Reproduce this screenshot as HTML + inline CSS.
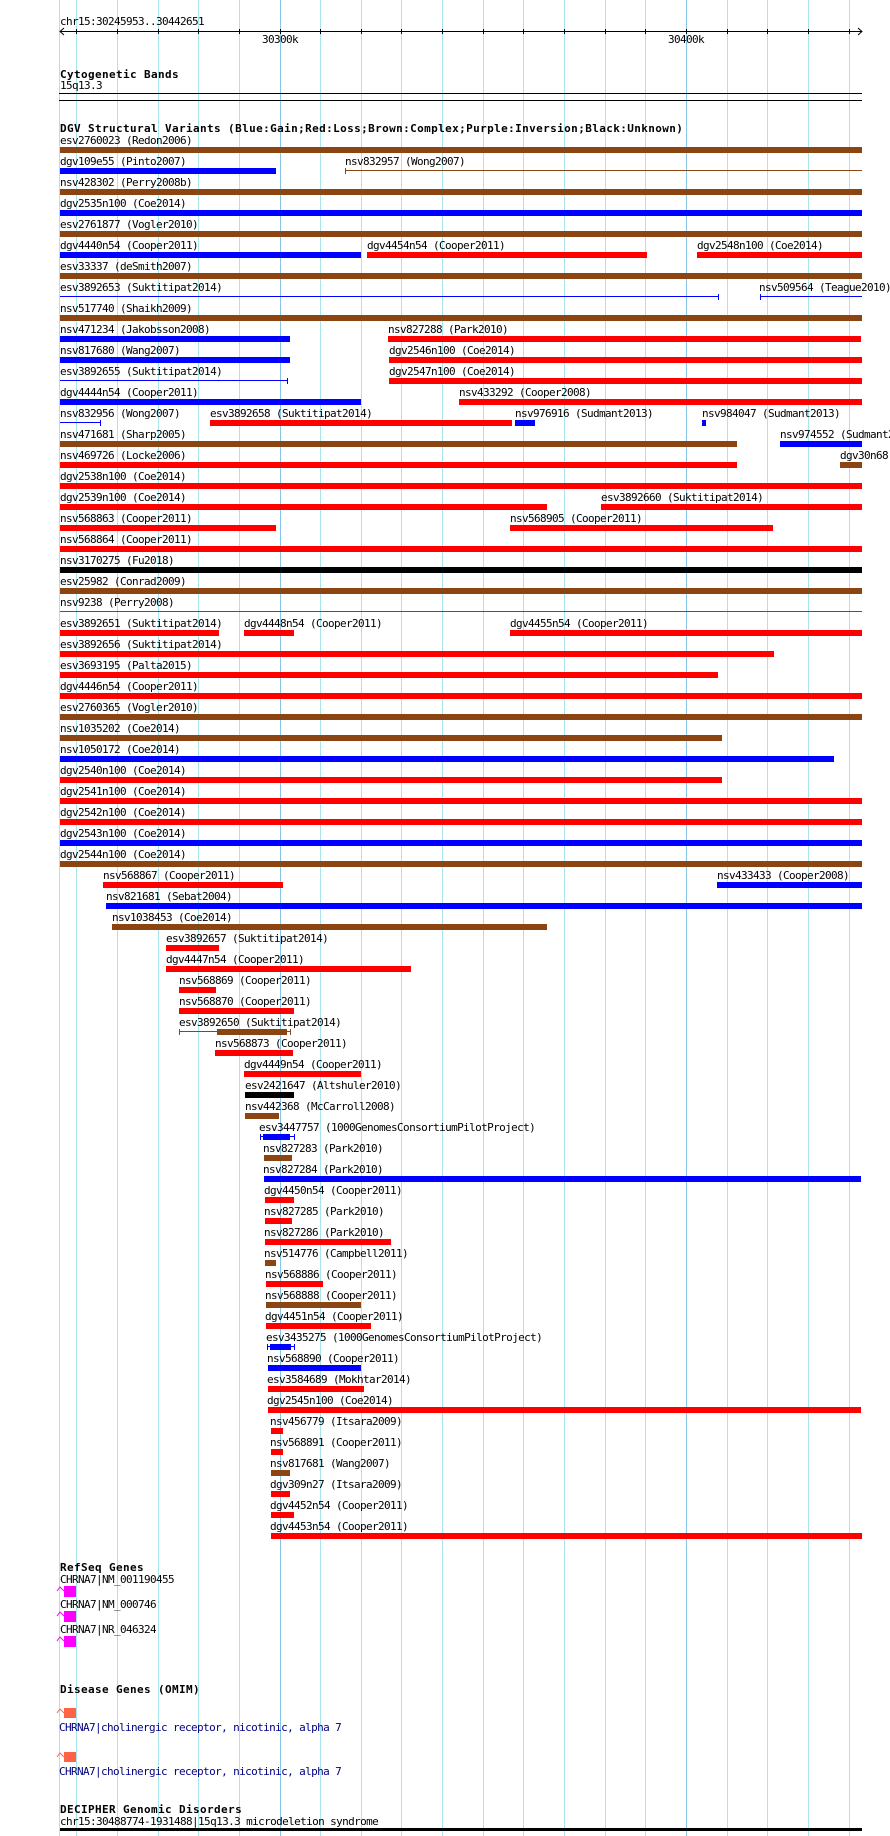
<!DOCTYPE html>
<html>
<head>
<meta charset="utf-8">
<style>
html,body{margin:0;padding:0;background:#ffffff;}
svg{display:block;}
text{font-family:"DejaVu Sans Mono","Liberation Mono",monospace;font-size:11px;letter-spacing:-0.62px;fill:#000;}
text.t{font-weight:bold;letter-spacing:0.38px;}
.r{fill:#ff0000}.b{fill:#0000ff}.n{fill:#8b4513}.k{fill:#000000}
</style>
</head>
<body>
<svg width="890" height="1836" viewBox="0 0 890 1836" xmlns="http://www.w3.org/2000/svg">
<rect x="0" y="0" width="890" height="1836" fill="#ffffff"/>
<!-- grid -->
<g fill="#a8e6ee">
<rect x="59" y="0" width="1" height="1836"/>
<rect x="76" y="0" width="1" height="1836"/>
<rect x="117" y="0" width="1" height="1836"/>
<rect x="158" y="0" width="1" height="1836"/>
<rect x="198" y="0" width="1" height="1836"/>
<rect x="239" y="0" width="1" height="1836"/>
<rect x="320" y="0" width="1" height="1836"/>
<rect x="361" y="0" width="1" height="1836"/>
<rect x="401" y="0" width="1" height="1836"/>
<rect x="442" y="0" width="1" height="1836"/>
<rect x="483" y="0" width="1" height="1836"/>
<rect x="523" y="0" width="1" height="1836"/>
<rect x="564" y="0" width="1" height="1836"/>
<rect x="605" y="0" width="1" height="1836"/>
<rect x="645" y="0" width="1" height="1836"/>
<rect x="727" y="0" width="1" height="1836"/>
<rect x="767" y="0" width="1" height="1836"/>
<rect x="808" y="0" width="1" height="1836"/>
<rect x="849" y="0" width="1" height="1836"/>
</g>
<g fill="#88c6e8">
<rect x="280" y="0" width="1" height="1836"/>
<rect x="686" y="0" width="1" height="1836"/>
</g>

<!-- ruler -->
<text x="60" y="25">chr15:30245953..30442651</text>
<rect x="60" y="31" width="802" height="1" fill="#000"/>
<polyline points="64,28 60,31.5 64,35" fill="none" stroke="#000" stroke-width="1"/>
<polyline points="858,28 862,31.5 858,35" fill="none" stroke="#000" stroke-width="1"/>
<g fill="#000">
<rect x="76" y="29" width="1" height="5"/>
<rect x="117" y="29" width="1" height="5"/>
<rect x="158" y="29" width="1" height="5"/>
<rect x="198" y="29" width="1" height="5"/>
<rect x="239" y="29" width="1" height="5"/>
<rect x="280" y="29" width="1" height="5"/>
<rect x="320" y="29" width="1" height="5"/>
<rect x="361" y="29" width="1" height="5"/>
<rect x="401" y="29" width="1" height="5"/>
<rect x="442" y="29" width="1" height="5"/>
<rect x="483" y="29" width="1" height="5"/>
<rect x="523" y="29" width="1" height="5"/>
<rect x="564" y="29" width="1" height="5"/>
<rect x="605" y="29" width="1" height="5"/>
<rect x="645" y="29" width="1" height="5"/>
<rect x="686" y="29" width="1" height="5"/>
<rect x="727" y="29" width="1" height="5"/>
<rect x="767" y="29" width="1" height="5"/>
<rect x="808" y="29" width="1" height="5"/>
<rect x="849" y="29" width="1" height="5"/>
</g>
<text x="280" y="43" text-anchor="middle">30300k</text>
<text x="686" y="43" text-anchor="middle">30400k</text>

<!-- cytogenetic bands -->
<text class="t" x="60" y="78">Cytogenetic Bands</text>
<text x="60" y="89">15q13.3</text>
<rect x="59" y="93" width="803" height="1" fill="#000"/>
<rect x="59" y="100" width="803" height="1" fill="#000"/>

<!-- DGV -->
<text class="t" x="60" y="132">DGV Structural Variants (Blue:Gain;Red:Loss;Brown:Complex;Purple:Inversion;Black:Unknown)</text>

<!-- row 0 -->
<text x="60" y="144">esv2760023 (Redon2006)</text>
<rect class="n" x="60" y="147" width="802" height="6"/>
<!-- row 1 -->
<text x="60" y="165">dgv109e55 (Pinto2007)</text>
<rect class="b" x="60" y="168" width="216" height="6"/>
<text x="345" y="165">nsv832957 (Wong2007)</text>
<rect class="n" x="345" y="170" width="517" height="1"/>
<rect class="n" x="345" y="168" width="1" height="6"/>
<!-- row 2 -->
<text x="60" y="186">nsv428302 (Perry2008b)</text>
<rect class="n" x="60" y="189" width="802" height="6"/>
<!-- row 3 -->
<text x="60" y="207">dgv2535n100 (Coe2014)</text>
<rect class="b" x="60" y="210" width="802" height="6"/>
<!-- row 4 -->
<text x="60" y="228">esv2761877 (Vogler2010)</text>
<rect class="n" x="60" y="231" width="802" height="6"/>
<!-- row 5 -->
<text x="60" y="249">dgv4440n54 (Cooper2011)</text>
<rect class="b" x="60" y="252" width="301" height="6"/>
<text x="367" y="249">dgv4454n54 (Cooper2011)</text>
<rect class="r" x="367" y="252" width="280" height="6"/>
<text x="697" y="249">dgv2548n100 (Coe2014)</text>
<rect class="r" x="697" y="252" width="165" height="6"/>
<!-- row 6 -->
<text x="60" y="270">esv33337 (deSmith2007)</text>
<rect class="n" x="60" y="273" width="802" height="6"/>
<!-- row 7 -->
<text x="60" y="291">esv3892653 (Suktitipat2014)</text>
<rect class="b" x="60" y="296" width="659" height="1"/>
<rect class="b" x="718" y="294" width="1" height="6"/>
<text x="759" y="291">nsv509564 (Teague2010)</text>
<rect class="b" x="760" y="296" width="102" height="1"/>
<rect class="b" x="760" y="294" width="1" height="6"/>
<!-- row 8 -->
<text x="60" y="312">nsv517740 (Shaikh2009)</text>
<rect class="n" x="60" y="315" width="802" height="6"/>
<!-- row 9 -->
<text x="60" y="333">nsv471234 (Jakobsson2008)</text>
<rect class="b" x="60" y="336" width="230" height="6"/>
<text x="388" y="333">nsv827288 (Park2010)</text>
<rect class="r" x="388" y="336" width="473" height="6"/>
<!-- row 10 -->
<text x="60" y="354">nsv817680 (Wang2007)</text>
<rect class="b" x="60" y="357" width="230" height="6"/>
<text x="389" y="354">dgv2546n100 (Coe2014)</text>
<rect class="r" x="389" y="357" width="473" height="6"/>
<!-- row 11 -->
<text x="60" y="375">esv3892655 (Suktitipat2014)</text>
<rect class="b" x="60" y="380" width="228" height="1"/>
<rect class="b" x="287" y="378" width="1" height="6"/>
<text x="389" y="375">dgv2547n100 (Coe2014)</text>
<rect class="r" x="389" y="378" width="473" height="6"/>
<!-- row 12 -->
<text x="60" y="396">dgv4444n54 (Cooper2011)</text>
<rect class="b" x="60" y="399" width="301" height="6"/>
<text x="459" y="396">nsv433292 (Cooper2008)</text>
<rect class="r" x="459" y="399" width="403" height="6"/>
<!-- row 13 -->
<text x="60" y="417">nsv832956 (Wong2007)</text>
<rect class="b" x="60" y="422" width="41" height="1"/>
<rect class="b" x="100" y="420" width="1" height="6"/>
<text x="210" y="417">esv3892658 (Suktitipat2014)</text>
<rect class="r" x="210" y="420" width="302" height="6"/>
<text x="515" y="417">nsv976916 (Sudmant2013)</text>
<rect class="b" x="515" y="420" width="20" height="6"/>
<text x="702" y="417">nsv984047 (Sudmant2013)</text>
<rect class="b" x="702" y="420" width="4" height="6"/>
<!-- row 14 -->
<text x="60" y="438">nsv471681 (Sharp2005)</text>
<rect class="n" x="60" y="441" width="677" height="6"/>
<text x="780" y="438">nsv974552 (Sudmant2013)</text>
<rect class="b" x="780" y="441" width="82" height="6"/>
<!-- row 15 -->
<text x="60" y="459">nsv469726 (Locke2006)</text>
<rect class="r" x="60" y="462" width="677" height="6"/>
<text x="840" y="459">dgv30n68 (Itsara2009)</text>
<rect class="n" x="840" y="462" width="22" height="6"/>
<!-- row 16 -->
<text x="60" y="480">dgv2538n100 (Coe2014)</text>
<rect class="r" x="60" y="483" width="802" height="6"/>
<!-- row 17 -->
<text x="60" y="501">dgv2539n100 (Coe2014)</text>
<rect class="r" x="60" y="504" width="487" height="6"/>
<text x="601" y="501">esv3892660 (Suktitipat2014)</text>
<rect class="r" x="601" y="504" width="261" height="6"/>
<!-- row 18 -->
<text x="60" y="522">nsv568863 (Cooper2011)</text>
<rect class="r" x="60" y="525" width="216" height="6"/>
<text x="510" y="522">nsv568905 (Cooper2011)</text>
<rect class="r" x="510" y="525" width="263" height="6"/>
<!-- row 19 -->
<text x="60" y="543">nsv568864 (Cooper2011)</text>
<rect class="r" x="60" y="546" width="802" height="6"/>
<!-- row 20 -->
<text x="60" y="564">nsv3170275 (Fu2018)</text>
<rect class="k" x="60" y="567" width="802" height="6"/>
<!-- row 21 -->
<text x="60" y="585">esv25982 (Conrad2009)</text>
<rect class="n" x="60" y="588" width="802" height="6"/>
<!-- row 22 -->
<text x="60" y="606">nsv9238 (Perry2008)</text>
<rect class="n" x="60" y="611" width="802" height="1"/>
<!-- row 23 -->
<text x="60" y="627">esv3892651 (Suktitipat2014)</text>
<rect class="r" x="60" y="630" width="159" height="6"/>
<text x="244" y="627">dgv4448n54 (Cooper2011)</text>
<rect class="r" x="244" y="630" width="50" height="6"/>
<text x="510" y="627">dgv4455n54 (Cooper2011)</text>
<rect class="r" x="510" y="630" width="352" height="6"/>
<!-- row 24 -->
<text x="60" y="648">esv3892656 (Suktitipat2014)</text>
<rect class="r" x="60" y="651" width="714" height="6"/>
<!-- row 25 -->
<text x="60" y="669">esv3693195 (Palta2015)</text>
<rect class="r" x="60" y="672" width="658" height="6"/>
<!-- row 26 -->
<text x="60" y="690">dgv4446n54 (Cooper2011)</text>
<rect class="r" x="60" y="693" width="802" height="6"/>
<!-- row 27 -->
<text x="60" y="711">esv2760365 (Vogler2010)</text>
<rect class="n" x="60" y="714" width="802" height="6"/>
<!-- row 28 -->
<text x="60" y="732">nsv1035202 (Coe2014)</text>
<rect class="n" x="60" y="735" width="662" height="6"/>
<!-- row 29 -->
<text x="60" y="753">nsv1050172 (Coe2014)</text>
<rect class="b" x="60" y="756" width="774" height="6"/>
<!-- row 30 -->
<text x="60" y="774">dgv2540n100 (Coe2014)</text>
<rect class="r" x="60" y="777" width="662" height="6"/>
<!-- row 31 -->
<text x="60" y="795">dgv2541n100 (Coe2014)</text>
<rect class="r" x="60" y="798" width="802" height="6"/>
<!-- row 32 -->
<text x="60" y="816">dgv2542n100 (Coe2014)</text>
<rect class="r" x="60" y="819" width="802" height="6"/>
<!-- row 33 -->
<text x="60" y="837">dgv2543n100 (Coe2014)</text>
<rect class="b" x="60" y="840" width="802" height="6"/>
<!-- row 34 -->
<text x="60" y="858">dgv2544n100 (Coe2014)</text>
<rect class="n" x="60" y="861" width="802" height="6"/>
<!-- row 35 -->
<text x="103" y="879">nsv568867 (Cooper2011)</text>
<rect class="r" x="103" y="882" width="180" height="6"/>
<text x="717" y="879">nsv433433 (Cooper2008)</text>
<rect class="b" x="717" y="882" width="145" height="6"/>
<!-- row 36 -->
<text x="106" y="900">nsv821681 (Sebat2004)</text>
<rect class="b" x="106" y="903" width="756" height="6"/>
<!-- row 37 -->
<text x="112" y="921">nsv1038453 (Coe2014)</text>
<rect class="n" x="112" y="924" width="435" height="6"/>
<!-- row 38 -->
<text x="166" y="942">esv3892657 (Suktitipat2014)</text>
<rect class="r" x="166" y="945" width="53" height="6"/>
<!-- row 39 -->
<text x="166" y="963">dgv4447n54 (Cooper2011)</text>
<rect class="r" x="166" y="966" width="245" height="6"/>
<!-- row 40 -->
<text x="179" y="984">nsv568869 (Cooper2011)</text>
<rect class="r" x="179" y="987" width="37" height="6"/>
<!-- row 41 -->
<text x="179" y="1005">nsv568870 (Cooper2011)</text>
<rect class="r" x="179" y="1008" width="115" height="6"/>
<!-- row 42 -->
<text x="179" y="1026">esv3892650 (Suktitipat2014)</text>
<rect class="n" x="179" y="1031" width="111" height="1"/>
<rect class="n" x="179" y="1029" width="1" height="6"/>
<rect class="n" x="290" y="1029" width="1" height="6"/>
<rect class="n" x="217" y="1029" width="70" height="6"/>
<!-- row 43 -->
<text x="215" y="1047">nsv568873 (Cooper2011)</text>
<rect class="r" x="215" y="1050" width="78" height="6"/>
<!-- row 44 -->
<text x="244" y="1068">dgv4449n54 (Cooper2011)</text>
<rect class="r" x="244" y="1071" width="117" height="6"/>
<!-- row 45 -->
<text x="245" y="1089">esv2421647 (Altshuler2010)</text>
<rect class="k" x="245" y="1092" width="49" height="6"/>
<!-- row 46 -->
<text x="245" y="1110">nsv442368 (McCarroll2008)</text>
<rect class="n" x="245" y="1113" width="34" height="6"/>
<!-- row 47 -->
<text x="259" y="1131">esv3447757 (1000GenomesConsortiumPilotProject)</text>
<rect class="b" x="260" y="1136" width="35" height="1"/>
<rect class="b" x="260" y="1134" width="1" height="6"/>
<rect class="b" x="294" y="1134" width="1" height="6"/>
<rect class="b" x="263" y="1134" width="27" height="6"/>
<!-- row 48 -->
<text x="263" y="1152">nsv827283 (Park2010)</text>
<rect class="n" x="264" y="1155" width="28" height="6"/>
<!-- row 49 -->
<text x="263" y="1173">nsv827284 (Park2010)</text>
<rect class="b" x="264" y="1176" width="597" height="6"/>
<!-- row 50 -->
<text x="264" y="1194">dgv4450n54 (Cooper2011)</text>
<rect class="r" x="265" y="1197" width="29" height="6"/>
<!-- row 51 -->
<text x="264" y="1215">nsv827285 (Park2010)</text>
<rect class="r" x="265" y="1218" width="27" height="6"/>
<!-- row 52 -->
<text x="264" y="1236">nsv827286 (Park2010)</text>
<rect class="r" x="265" y="1239" width="126" height="6"/>
<!-- row 53 -->
<text x="264" y="1257">nsv514776 (Campbell2011)</text>
<rect class="n" x="265" y="1260" width="11" height="6"/>
<!-- row 54 -->
<text x="265" y="1278">nsv568886 (Cooper2011)</text>
<rect class="r" x="266" y="1281" width="57" height="6"/>
<!-- row 55 -->
<text x="265" y="1299">nsv568888 (Cooper2011)</text>
<rect class="n" x="266" y="1302" width="95" height="6"/>
<!-- row 56 -->
<text x="265" y="1320">dgv4451n54 (Cooper2011)</text>
<rect class="r" x="266" y="1323" width="105" height="6"/>
<!-- row 57 -->
<text x="266" y="1341">esv3435275 (1000GenomesConsortiumPilotProject)</text>
<rect class="b" x="267" y="1346" width="28" height="1"/>
<rect class="b" x="267" y="1344" width="1" height="6"/>
<rect class="b" x="294" y="1344" width="1" height="6"/>
<rect class="b" x="270" y="1344" width="21" height="6"/>
<!-- row 58 -->
<text x="267" y="1362">nsv568890 (Cooper2011)</text>
<rect class="b" x="268" y="1365" width="93" height="6"/>
<!-- row 59 -->
<text x="267" y="1383">esv3584689 (Mokhtar2014)</text>
<rect class="r" x="268" y="1386" width="96" height="6"/>
<!-- row 60 -->
<text x="267" y="1404">dgv2545n100 (Coe2014)</text>
<rect class="r" x="268" y="1407" width="593" height="6"/>
<!-- row 61 -->
<text x="270" y="1425">nsv456779 (Itsara2009)</text>
<rect class="r" x="271" y="1428" width="12" height="6"/>
<!-- row 62 -->
<text x="270" y="1446">nsv568891 (Cooper2011)</text>
<rect class="r" x="271" y="1449" width="12" height="6"/>
<!-- row 63 -->
<text x="270" y="1467">nsv817681 (Wang2007)</text>
<rect class="n" x="271" y="1470" width="19" height="6"/>
<!-- row 64 -->
<text x="270" y="1488">dgv309n27 (Itsara2009)</text>
<rect class="r" x="271" y="1491" width="19" height="6"/>
<!-- row 65 -->
<text x="270" y="1509">dgv4452n54 (Cooper2011)</text>
<rect class="r" x="271" y="1512" width="23" height="6"/>
<!-- row 66 -->
<text x="270" y="1530">dgv4453n54 (Cooper2011)</text>
<rect class="r" x="271" y="1533" width="591" height="6"/>

<!-- RefSeq Genes -->
<text class="t" x="60" y="1571">RefSeq Genes</text>
<text x="60" y="1583">CHRNA7|NM_001190455</text>
<polyline points="57,1591 60,1587 64,1591" fill="none" stroke="#ff00ff" stroke-width="1"/>
<rect x="64" y="1586" width="12" height="11" fill="#ff00ff"/>
<text x="60" y="1608">CHRNA7|NM_000746</text>
<polyline points="57,1616 60,1612 64,1616" fill="none" stroke="#ff00ff" stroke-width="1"/>
<rect x="64" y="1611" width="12" height="11" fill="#ff00ff"/>
<text x="60" y="1633">CHRNA7|NR_046324</text>
<polyline points="57,1641 60,1637 64,1641" fill="none" stroke="#ff00ff" stroke-width="1"/>
<rect x="64" y="1636" width="12" height="11" fill="#ff00ff"/>

<!-- Disease Genes -->
<text class="t" x="60" y="1693">Disease Genes (OMIM)</text>
<polyline points="57,1713 60,1709 64,1713" fill="none" stroke="#ff6347" stroke-width="1"/>
<rect x="64" y="1708" width="12" height="10" fill="#ff6347"/>
<text x="59" y="1731" style="fill:#000080">CHRNA7|cholinergic receptor, nicotinic, alpha 7</text>
<polyline points="57,1757 60,1753 64,1757" fill="none" stroke="#ff6347" stroke-width="1"/>
<rect x="64" y="1752" width="12" height="10" fill="#ff6347"/>
<text x="59" y="1775" style="fill:#000080">CHRNA7|cholinergic receptor, nicotinic, alpha 7</text>

<!-- DECIPHER -->
<text class="t" x="60" y="1813">DECIPHER Genomic Disorders</text>
<text x="60" y="1825">chr15:30488774-1931488|15q13.3 microdeletion syndrome</text>
<rect x="60" y="1828" width="802" height="3" fill="#000"/>
</svg>
</body>
</html>
